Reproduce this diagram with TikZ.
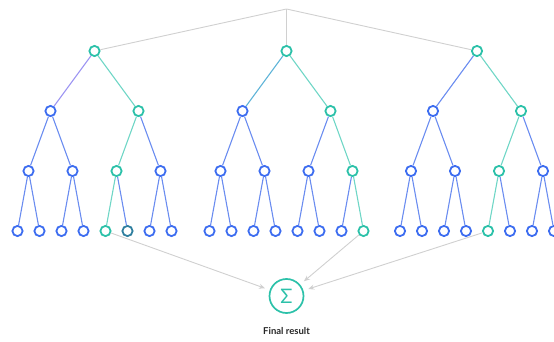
\documentclass[tikz,border=0pt]{standalone}
\usepackage{fontspec}
\setmainfont{Lato}
\usetikzlibrary{arrows.meta}
\definecolor{nblue}{HTML}{3D6DF0}
\definecolor{eblue}{HTML}{6A8CF0}
\definecolor{nteal}{HTML}{2CC1A9}
\definecolor{eteal}{HTML}{6FD6C6}
\definecolor{dteal}{HTML}{2F7F9F}
\definecolor{epurp}{HTML}{9C94F2}
\definecolor{emix}{HTML}{5FB4D8}
\definecolor{lgray}{HTML}{D0D0D0}
\begin{document}
\begin{tikzpicture}[x=1pt,y=-1pt,
  nd/.style={circle,draw=nblue,line width=1.8pt,minimum size=10.2pt,inner sep=0pt,fill=white},
  tl/.style={draw=nteal},
  edg/.style={draw=eblue,line width=1.1pt},
  te/.style={draw=eteal},
  gl/.style={draw=lgray,line width=0.9pt},
  arr/.style={draw=lgray,line width=0.9pt,-{Stealth[length=6pt,width=5pt]},shorten >=5pt},
  sumnode/.style={circle,draw=nteal,line width=1.7pt,minimum size=34pt,inner sep=0pt,text=nteal,font=\fontsize{20}{20}\selectfont},
  lbl/.style={font=\bfseries\fontsize{9.5}{11}\selectfont,text=black!85},
  % highlighted nodes
  n1x1/.style={tl}, n1x3/.style={tl}, n1x6/.style={tl}, n1x12/.style={tl}, n1x13/.style={draw=dteal},
  n2x1/.style={tl}, n2x3/.style={tl}, n2x7/.style={tl}, n2x15/.style={tl},
  n3x1/.style={tl}, n3x3/.style={tl}, n3x6/.style={tl}, n3x12/.style={tl},
  % highlighted edges
  e1x2/.style={draw=epurp}, e1x3/.style={te}, e1x6/.style={te}, e1x12/.style={te},
  e2x2/.style={draw=emix}, e2x3/.style={te}, e2x7/.style={te}, e2x15/.style={te},
  e3x3/.style={te}, e3x6/.style={te}, e3x12/.style={te}
]
\useasboundingbox (0,0) rectangle (554,342);
\foreach \t/\xo in {1/94.5,2/286.5,3/477}{
  \node[nd, n\t x1/.try] (t\t x1) at (\xo,51) {};
  \foreach \k/\p/\dx/\y in {2/1/-44/111,3/1/44/111,
      4/2/-66/171,5/2/-22/171,6/3/22/171,7/3/66/171,
      8/4/-77/231,9/4/-55/231,10/5/-33/231,11/5/-11/231,
      12/6/11/231,13/6/33/231,14/7/55/231,15/7/77/231}{
    \node[nd, n\t x\k/.try] (t\t x\k) at (\xo+\dx,\y) {};
    \draw[edg, e\t x\k/.try] (t\t x\p) -- (t\t x\k);
  }
}
\coordinate (top) at (286.5,9);
\draw[gl] (top) -- (t1x1);
\draw[gl] (top) -- (t2x1);
\draw[gl] (top) -- (t3x1);
\node[sumnode] (sum) at (286.5,296) {Σ};
\node[lbl] (final) at (286.5,331) {Final result};
\draw[arr] (t1x12) -- (sum);
\draw[arr] (t2x15) -- (sum);
\draw[arr] (t3x12) -- (sum);
\end{tikzpicture}
\end{document}
